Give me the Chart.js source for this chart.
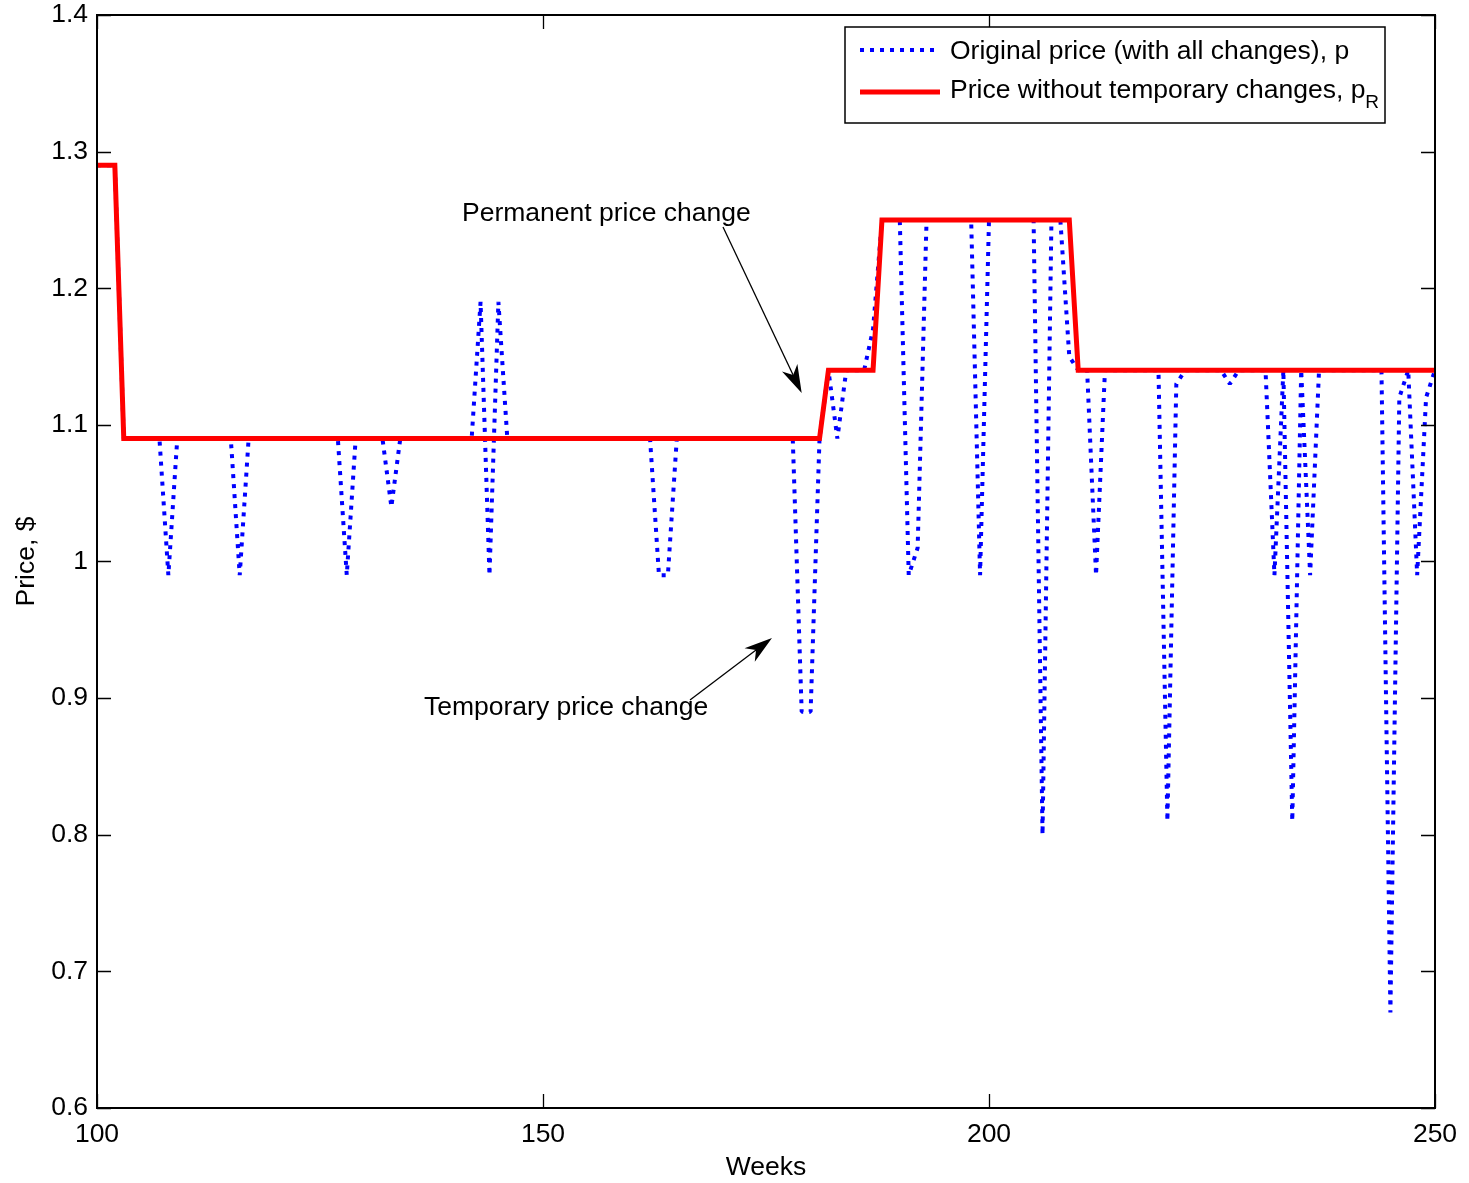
<!DOCTYPE html>
<html>
<head>
<meta charset="utf-8">
<script src="https://cdn.jsdelivr.net/npm/chart.js@4.4.1/dist/chart.umd.min.js"></script>
<style>
html,body{margin:0;padding:0;background:#fff;}
canvas{display:block;}
</style>
</head>
<body>
<canvas id="c" width="1469" height="1183"></canvas>
<script>
// ---- data ----
const weeks = [
  100,101,102,103,104,105,106,107,108,109,
  110,111,112,113,114,115,116,117,118,119,
  120,121,122,123,124,125,126,127,128,129,
  130,131,132,133,134,135,136,137,138,139,
  140,141,142,143,144,145,146,147,148,149,
  150,151,152,153,154,155,156,157,158,159,
  160,161,162,163,164,165,166,167,168,169,
  170,171,172,173,174,175,176,177,178,179,
  180,181,182,183,184,185,186,187,188,189,
  190,191,192,193,194,195,196,197,198,199,
  200,201,202,203,204,205,206,207,208,209,
  210,211,212,213,214,215,216,217,218,219,
  220,221,222,223,224,225,226,227,228,229,
  230,231,232,233,234,235,236,237,238,239,
  240,241,242,243,244,245,246,247,248,249,
  250
];
// Original price (with all changes), p
const priceP = [
  1.29,1.29,1.29,1.09,1.09,1.09,1.09,1.09,0.99,1.09,
  1.09,1.09,1.09,1.09,1.09,1.09,0.99,1.09,1.09,1.09,
  1.09,1.09,1.09,1.09,1.09,1.09,1.09,1.09,0.99,1.09,
  1.09,1.09,1.09,1.04,1.09,1.09,1.09,1.09,1.09,1.09,
  1.09,1.09,1.09,1.19,0.99,1.19,1.09,1.09,1.09,1.09,
  1.09,1.09,1.09,1.09,1.09,1.09,1.09,1.09,1.09,1.09,
  1.09,1.09,1.09,0.99,0.99,1.09,1.09,1.09,1.09,1.09,
  1.09,1.09,1.09,1.09,1.09,1.09,1.09,1.09,1.09,0.89,
  0.89,1.09,1.14,1.09,1.14,1.14,1.14,1.17,1.25,1.25,
  1.25,0.99,1.01,1.25,1.25,1.25,1.25,1.25,1.25,0.99,
  1.25,1.25,1.25,1.25,1.25,1.25,0.80,1.25,1.25,1.15,
  1.14,1.14,0.99,1.14,1.14,1.14,1.14,1.14,1.14,1.14,
  0.81,1.13,1.14,1.14,1.14,1.14,1.14,1.13,1.14,1.14,
  1.14,1.14,0.99,1.14,0.81,1.14,0.99,1.14,1.14,1.14,
  1.14,1.14,1.14,1.14,1.14,0.67,1.12,1.14,0.99,1.12,
  1.14
];
// Price without temporary changes, p_R
const priceR = [
  1.29,1.29,1.29,1.09,1.09,1.09,1.09,1.09,1.09,1.09,
  1.09,1.09,1.09,1.09,1.09,1.09,1.09,1.09,1.09,1.09,
  1.09,1.09,1.09,1.09,1.09,1.09,1.09,1.09,1.09,1.09,
  1.09,1.09,1.09,1.09,1.09,1.09,1.09,1.09,1.09,1.09,
  1.09,1.09,1.09,1.09,1.09,1.09,1.09,1.09,1.09,1.09,
  1.09,1.09,1.09,1.09,1.09,1.09,1.09,1.09,1.09,1.09,
  1.09,1.09,1.09,1.09,1.09,1.09,1.09,1.09,1.09,1.09,
  1.09,1.09,1.09,1.09,1.09,1.09,1.09,1.09,1.09,1.09,
  1.09,1.09,1.14,1.14,1.14,1.14,1.14,1.14,1.25,1.25,
  1.25,1.25,1.25,1.25,1.25,1.25,1.25,1.25,1.25,1.25,
  1.25,1.25,1.25,1.25,1.25,1.25,1.25,1.25,1.25,1.25,
  1.14,1.14,1.14,1.14,1.14,1.14,1.14,1.14,1.14,1.14,
  1.14,1.14,1.14,1.14,1.14,1.14,1.14,1.14,1.14,1.14,
  1.14,1.14,1.14,1.14,1.14,1.14,1.14,1.14,1.14,1.14,
  1.14,1.14,1.14,1.14,1.14,1.14,1.14,1.14,1.14,1.14,
  1.14
];
const xTicks = [100, 150, 200, 250];
const yTicks = [0.6, 0.7, 0.8, 0.9, 1.0, 1.1, 1.2, 1.3, 1.4];
const yTickLabels = ['0.6','0.7','0.8','0.9','1','1.1','1.2','1.3','1.4'];
const legendLabels = ['Original price (with all changes), p', 'Price without temporary changes, p'];
const legendSub = ['', 'R'];
const annotations = [
  {text: 'Permanent price change', textX: 140.92, textY: 1.2543, tailX: 170.18, tailY: 1.2448, tipX: 179.0, tipY: 1.1233},
  {text: 'Temporary price change', textX: 136.66, textY: 0.8927, tailX: 166.48, tailY: 0.8986, tipX: 175.67, tipY: 0.944}
];

// ---- styles ----
const FONT = '"Liberation Sans", Arial, Helvetica, sans-serif';
const FS = 26.5;
const BLUE = 'rgb(0,0,255)';
const RED = 'rgb(255,0,0)';

const framePlugin = {
  id: 'frame',
  afterDraw(chart) {
    const {ctx, chartArea: a, scales: {x, y}} = chart;
    ctx.save();
    // ticks inward on all sides
    ctx.strokeStyle = '#000';
    ctx.lineWidth = 1.3;
    const TL = 14;
    ctx.beginPath();
    xTicks.forEach(v => {
      const px = Math.round(x.getPixelForValue(v)) + 0.5;
      ctx.moveTo(px, a.bottom); ctx.lineTo(px, a.bottom - TL);
      ctx.moveTo(px, a.top); ctx.lineTo(px, a.top + TL);
    });
    yTicks.forEach(v => {
      const py = Math.round(y.getPixelForValue(v)) + 0.5;
      ctx.moveTo(a.left, py); ctx.lineTo(a.left + TL, py);
      ctx.moveTo(a.right, py); ctx.lineTo(a.right - TL, py);
    });
    ctx.stroke();
    // box
    ctx.lineWidth = 2;
    ctx.strokeRect(a.left, a.top, a.right - a.left, a.bottom - a.top);

    // annotations
    ctx.fillStyle = '#000';
    ctx.font = FS + 'px ' + FONT;
    ctx.textAlign = 'left';
    ctx.textBaseline = 'middle';
    annotations.forEach(an => {
      ctx.fillText(an.text, x.getPixelForValue(an.textX), y.getPixelForValue(an.textY));
      const tx = x.getPixelForValue(an.tailX), ty = y.getPixelForValue(an.tailY);
      const hx = x.getPixelForValue(an.tipX), hy = y.getPixelForValue(an.tipY);
      const dx = hx - tx, dy = hy - ty, L = Math.hypot(dx, dy);
      const ux = dx / L, uy = dy / L, nx = -uy, ny = ux;
      const HL = 28, HW = 8.5, NOTCH = 20;
      ctx.lineWidth = 1.3;
      ctx.beginPath();
      ctx.moveTo(tx, ty);
      ctx.lineTo(hx - ux * NOTCH, hy - uy * NOTCH);
      ctx.stroke();
      ctx.beginPath();
      ctx.moveTo(hx, hy);
      ctx.lineTo(hx - ux * HL + nx * HW, hy - uy * HL + ny * HW);
      ctx.lineTo(hx - ux * NOTCH, hy - uy * NOTCH);
      ctx.lineTo(hx - ux * HL - nx * HW, hy - uy * HL - ny * HW);
      ctx.closePath();
      ctx.fill();
    });

    // legend
    const lw = 540, lh = 96;
    const lx = a.right - 50 - lw, ly = a.top + 12;
    ctx.fillStyle = '#fff';
    ctx.fillRect(lx, ly, lw, lh);
    ctx.strokeStyle = '#000';
    ctx.lineWidth = 1.5;
    ctx.strokeRect(lx, ly, lw, lh);
    const rows = [
      {ds: chart.data.datasets[1], y: ly + 23, ty: ly + 25},
      {ds: chart.data.datasets[0], y: ly + 65, ty: ly + 64}
    ];
    rows.forEach((r, i) => {
      ctx.save();
      ctx.strokeStyle = r.ds.borderColor;
      ctx.lineWidth = r.ds.borderWidth;
      ctx.setLineDash(r.ds.borderDash || []);
      ctx.beginPath();
      ctx.moveTo(lx + 15, r.y);
      ctx.lineTo(lx + 95, r.y);
      ctx.stroke();
      ctx.restore();
      ctx.fillStyle = '#000';
      ctx.font = FS + 'px ' + FONT;
      ctx.textBaseline = 'middle';
      ctx.fillText(legendLabels[i], lx + 105, r.ty);
      if (legendSub[i]) {
        const w = ctx.measureText(legendLabels[i]).width;
        ctx.font = '19px ' + FONT;
        ctx.fillText(legendSub[i], lx + 105 + w, r.ty + 12);
      }
    });
    ctx.restore();
  }
};

const tickFont = {family: FONT, size: FS};

new Chart(document.getElementById('c'), {
  type: 'line',
  data: {
    datasets: [
      {
        label: 'Price without temporary changes, pR',
        data: weeks.map((w, i) => ({x: w, y: priceR[i]})),
        borderColor: RED,
        borderWidth: 5,
        borderJoinStyle: 'miter',
        pointRadius: 0,
        tension: 0,
        fill: false,
        order: 0
      },
      {
        label: 'Original price (with all changes), p',
        data: weeks.map((w, i) => ({x: w, y: priceP[i]})),
        borderColor: BLUE,
        borderWidth: 4,
        borderDash: [4, 6],
        borderCapStyle: 'butt',
        borderJoinStyle: 'bevel',
        pointRadius: 0,
        tension: 0,
        fill: false,
        order: 1
      }
    ]
  },
  options: {
    responsive: false,
    animation: false,
    devicePixelRatio: 1,
    layout: {padding: {top: 15, right: 34, left: 0, bottom: 0}},
    plugins: {legend: {display: false}, tooltip: {enabled: false}},
    scales: {
      x: {
        type: 'linear',
        min: 100,
        max: 250,
        afterBuildTicks: s => { s.ticks = xTicks.map(v => ({value: v})); },
        afterFit: s => { s.height = 75; s.paddingLeft = 0; s.paddingRight = 0; },
        grid: {display: false, drawTicks: false},
        border: {display: false},
        ticks: {font: tickFont, color: '#000', padding: 11, maxRotation: 0, autoSkip: false},
        title: {display: true, text: 'Weeks', font: {family: FONT, size: FS, lineHeight: 1.0}, color: '#000', padding: {top: 0, bottom: 2}}
      },
      y: {
        type: 'linear',
        min: 0.6,
        max: 1.4,
        afterBuildTicks: s => { s.ticks = yTicks.map(v => ({value: v})); },
        afterFit: s => { s.width = 97; s.paddingTop = 0; s.paddingBottom = 0; },
        grid: {display: false, drawTicks: false},
        border: {display: false},
        ticks: {
          font: tickFont, color: '#000', padding: 9, autoSkip: false,
          callback: (v, i) => yTickLabels[i]
        },
        title: {display: true, text: 'Price, $', font: tickFont, color: '#000', padding: {top: 11, bottom: 0}}
      }
    }
  },
  plugins: [framePlugin]
});
</script>
</body>
</html>
